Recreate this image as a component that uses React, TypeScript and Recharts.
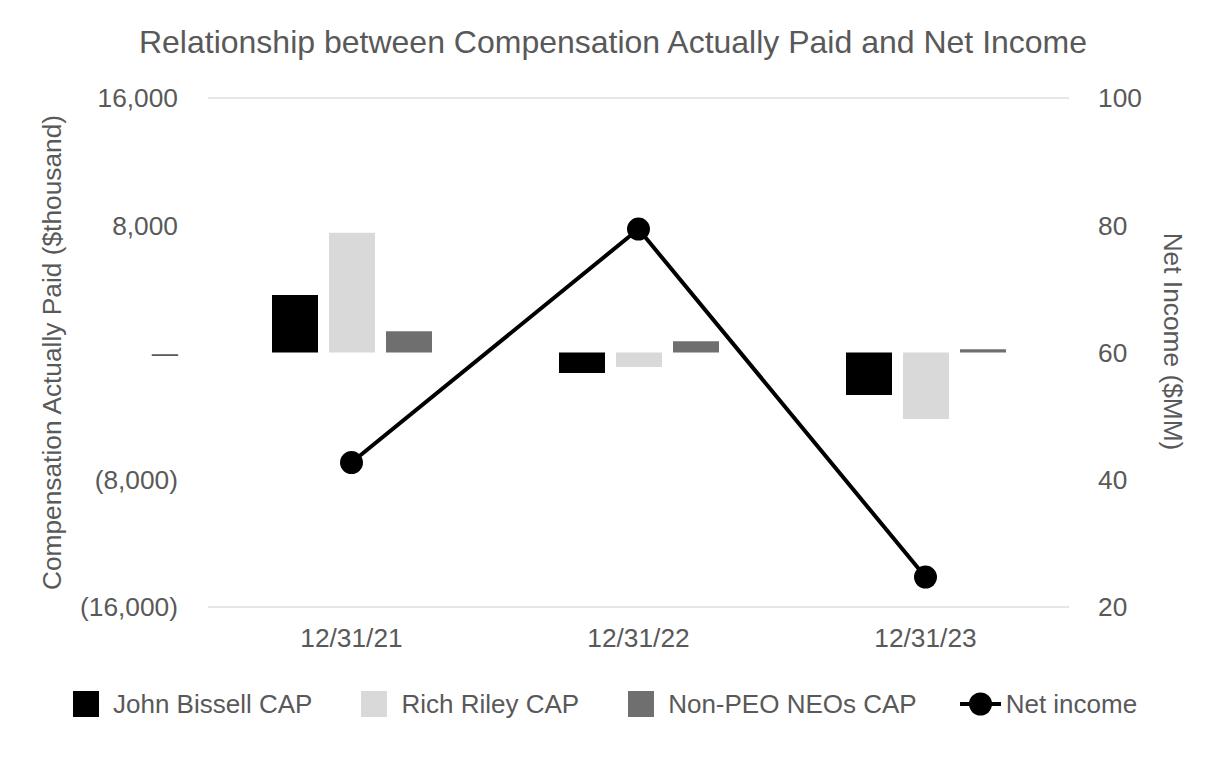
import React from 'react';
import { ComposedChart, Bar, Line, XAxis, YAxis, CartesianGrid, Label } from 'recharts';

const categories = ['12/31/21', '12/31/22', '12/31/23'];
const johnBissellCap = [3610, -1285, -2671];
const richRileyCap = [7535, -907, -4183];
const nonPeoCap = [1342, 712, 208];
const netIncome = [42.7, 79.4, 24.7];
const leftTicks = [-16000, -8000, 0, 8000, 16000];
const rightTicks = [20, 40, 60, 80, 100];

const data = categories.map((c, i) => ({
  date: c,
  john: johnBissellCap[i],
  rich: richRileyCap[i],
  nonpeo: nonPeoCap[i],
  net: netIncome[i],
}));

const FONT = '"Liberation Sans", Arial, sans-serif';
const TEXT = '#595959';
const FS = 26.3;

const fmtLeft = (v: number) => {
  if (v === 0) return '\u2014';
  const s = Math.abs(v).toLocaleString('en-US');
  return v < 0 ? `(${s})` : s;
};

const legendItems = [
  { name: 'John Bissell CAP', color: '#000000', type: 'square' },
  { name: 'Rich Riley CAP', color: '#d9d9d9', type: 'square' },
  { name: 'Non-PEO NEOs CAP', color: '#6f6f6f', type: 'square' },
  { name: 'Net income', color: '#000000', type: 'line' },
];

const LeftLabel = (props: any) => {
  const vb = props.viewBox || {};
  const x = vb.x + 52;
  const y = vb.y + vb.height / 2;
  return (
    <text x={x} y={y} transform={`rotate(-90, ${x}, ${y})`} textAnchor="middle" dominantBaseline="central"
      fill={TEXT} fontSize={FS} fontFamily={FONT}>
      Compensation Actually Paid ($thousand)
    </text>
  );
};

const RightLabel = (props: any) => {
  const vb = props.viewBox || {};
  const x = vb.x + 104;
  const y = vb.y + vb.height / 2 - 11;
  return (
    <text x={x} y={y} transform={`rotate(90, ${x}, ${y})`} textAnchor="middle" dominantBaseline="central"
      fill={TEXT} fontSize={FS} fontFamily={FONT}>
      Net Income ($MM)
    </text>
  );
};

export default function App() {
  return (
    <div style={{ position: 'absolute', left: 0, top: 0, width: 1226, height: 760, background: '#fff', fontFamily: FONT }}>
      <div style={{ position: 'absolute', left: 0, top: 24, width: 1226, textAlign: 'center', fontSize: 32, color: TEXT, lineHeight: 'normal' }}>
        Relationship between Compensation Actually Paid and Net Income
      </div>
      <ComposedChart width={1226} height={760} data={data}
        margin={{ top: 98, right: 0, bottom: 0, left: 0 }}
        barGap={11} barCategoryGap={63}>
        <CartesianGrid vertical={false} stroke="#e6e6e6" strokeWidth={2} />
        <XAxis dataKey="date" height={153} axisLine={false} tickLine={false} tickSize={0} tickMargin={21}
          tick={{ fill: TEXT, fontSize: FS, fontFamily: FONT }} />
        <YAxis yAxisId="left" orientation="left" width={208} domain={[-16000, 16000]} ticks={leftTicks}
          tickFormatter={fmtLeft} axisLine={false} tickLine={false} tickSize={0} tickMargin={30}
          tick={{ fill: TEXT, fontSize: FS, fontFamily: FONT }} interval={0}>
          <Label content={<LeftLabel />} />
        </YAxis>
        <YAxis yAxisId="right" orientation="right" width={157} domain={[20, 100]} ticks={rightTicks}
          axisLine={false} tickLine={false} tickSize={0} tickMargin={29}
          tick={{ fill: TEXT, fontSize: FS, fontFamily: FONT, textAnchor: 'start' }} interval={0}>
          <Label content={<RightLabel />} />
        </YAxis>
        <Bar yAxisId="left" dataKey="john" name="John Bissell CAP" fill="#000000" barSize={46} isAnimationActive={false} />
        <Bar yAxisId="left" dataKey="rich" name="Rich Riley CAP" fill="#d9d9d9" barSize={46} isAnimationActive={false} />
        <Bar yAxisId="left" dataKey="nonpeo" name="Non-PEO NEOs CAP" fill="#6f6f6f" barSize={46} isAnimationActive={false} />
        <Line yAxisId="right" dataKey="net" name="Net income" stroke="#000000" strokeWidth={4}
          dot={{ r: 11.5, fill: '#000000', stroke: '#000000', strokeWidth: 0 }} activeDot={false}
          isAnimationActive={false} />
      </ComposedChart>
      <div style={{ position: 'absolute', left: 73, top: 690, height: 28, display: 'flex', alignItems: 'center', fontSize: 26, color: TEXT, whiteSpace: 'nowrap' }}>
        {legendItems.map((it, i) => (
          <div key={it.name} style={{ display: 'flex', alignItems: 'center', marginRight: i === 2 ? 43 : 49 }}>
            {it.type === 'square' ? (
              <div style={{ width: 26, height: 26, background: it.color, marginRight: 14 }} />
            ) : (
              <svg width={41} height={26} style={{ marginRight: 5 }}>
                <line x1={0} y1={13} x2={41} y2={13} stroke="#000" strokeWidth={4} />
                <circle cx={20.5} cy={13} r={11.5} fill="#000" />
              </svg>
            )}
            <span>{it.name}</span>
          </div>
        ))}
      </div>
    </div>
  );
}
